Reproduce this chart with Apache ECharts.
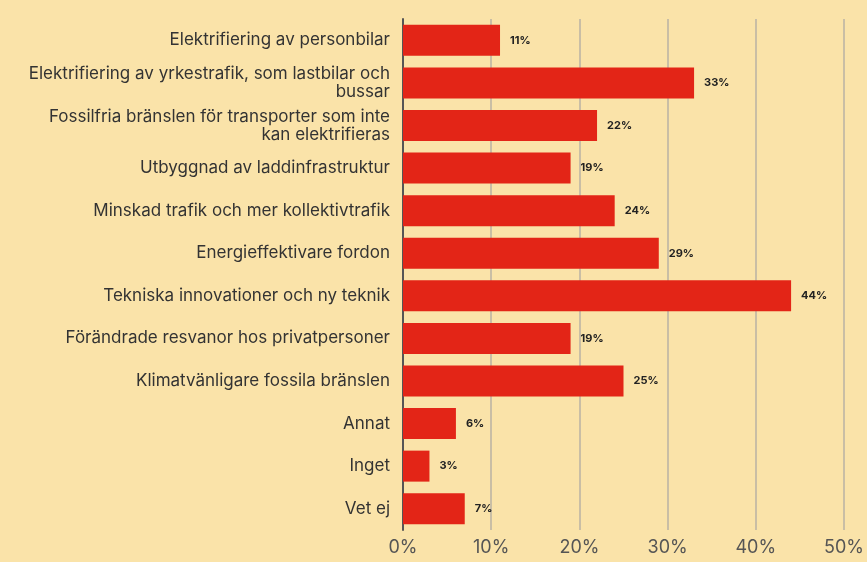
<!DOCTYPE html>
<html>
<head>
<meta charset="utf-8">
<script src="https://cdn.jsdelivr.net/npm/echarts@6/dist/echarts.min.js"></script>
<style>
html, body { margin: 0; padding: 0; background: #FAE3A9; }
#chart { width: 867px; height: 562px; }
</style>
</head>
<body>
<div id="chart"></div>
<script>
var categories = [
	'Elektrifiering av personbilar',
	'Elektrifiering av yrkestrafik, som lastbilar och\nbussar',
	'Fossilfria bränslen för transporter som inte\nkan elektrifieras',
	'Utbyggnad av laddinfrastruktur',
	'Minskad trafik och mer kollektivtrafik',
	'Energieffektivare fordon',
	'Tekniska innovationer och ny teknik',
	'Förändrade resvanor hos privatpersoner',
	'Klimatvänligare fossila bränslen',
	'Annat',
	'Inget',
	'Vet ej'
];
var values = [11, 33, 22, 19, 24, 29, 44, 19, 25, 6, 3, 7];

var chart = echarts.init(document.getElementById('chart'));
var option = {
	backgroundColor: '#FAE3A9',
	animation: false,
	grid: { left: 403, right: 20, top: 19, bottom: 32, containLabel: false },
	xAxis: {
		type: 'value',
		min: 0,
		max: 50,
		interval: 10,
		axisLabel: {
			formatter: '{value}%',
			color: '#555',
			fontSize: 18,
			fontFamily: 'Inter',
			margin: 9
		},
		axisLine: { show: false },
		axisTick: { show: false },
		splitLine: { lineStyle: { color: '#C9BEA5', width: 2 } }
	},
	yAxis: {
		type: 'category',
		data: categories,
		inverse: true,
		axisLine: { lineStyle: { color: '#555', width: 2 } },
		axisTick: { show: false },
		axisLabel: {
			color: '#333',
			fontSize: 17,
			fontFamily: 'Inter',
			margin: 13,
			lineHeight: 18,
			align: 'right'
		}
	},
	series: [{
		type: 'bar',
		data: values,
		barWidth: 31,
		itemStyle: { color: '#E32517' },
		label: {
			show: true,
			position: 'right',
			distance: 10,
			formatter: '{c}%',
			color: '#222',
			fontSize: 11,
			fontWeight: 'bold',
			fontFamily: 'Inter'
		}
	}]
};
chart.setOption(option);
</script>
</body>
</html>
